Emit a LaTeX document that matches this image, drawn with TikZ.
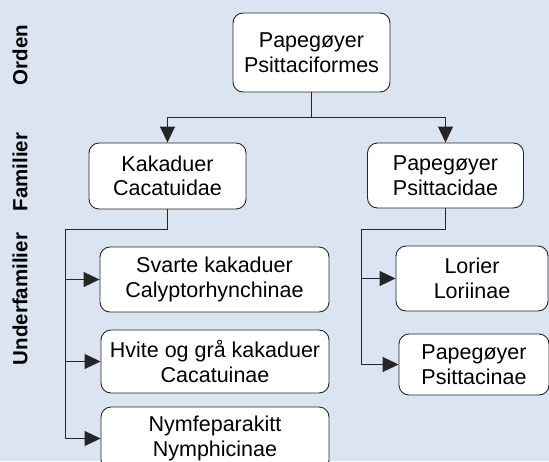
\documentclass[tikz,border=0pt]{standalone}
\usepackage{fontspec}
\setmainfont{Liberation Sans}
\usetikzlibrary{arrows.meta}
\definecolor{bg}{RGB}{219,229,241}
\begin{document}
\begin{tikzpicture}[x=1pt,y=1pt,
  box/.style={draw=black!85, line width=0.9pt, rounded corners=10pt, fill=white, align=center, inner sep=0pt, font=\fontsize{21.5}{24.5}\selectfont},
  lane/.style={rotate=90, font=\bfseries\fontsize{20.5}{23}\selectfont},
  conn/.style={line width=0.9pt, draw=black!85},
  arr/.style={conn, -{Triangle[length=16pt,width=15pt]}}]
\clip (0,0) rectangle (549,-461);
\fill[bg] (0,0) rectangle (549,-461);
% lane labels
\node[lane] (l1) at (20,-55) {Orden};
\node[lane] (l2) at (20,-172) {Familier};
\node[lane] (l3) at (20,-299) {Underfamilier};
% nodes
\node[box, minimum width=157pt, minimum height=79pt] (ord) at (311.5,-52.5) {Papegøyer\\Psittaciformes};
\node[box, minimum width=157pt, minimum height=66pt] (kak) at (167.5,-176) {Kakaduer\\Cacatuidae};
\node[box, minimum width=156pt, minimum height=65pt] (psd) at (445.5,-175.5) {Papegøyer\\Psittacidae};
\node[box, minimum width=229pt, minimum height=65pt] (sva) at (214.5,-279.5) {Svarte kakaduer\\Calyptorhynchinae};
\node[box, minimum width=228pt, minimum height=63pt] (hvi) at (215,-361.5) {Hvite og grå kakaduer\\Cacatuinae};
\node[box, minimum width=228pt, minimum height=63pt] (nym) at (215,-438.5) {Nymfeparakitt\\Nymphicinae};
\node[box, minimum width=152pt, minimum height=65pt] (lor) at (472,-278.5) {Lorier\\Loriinae};
\node[box, minimum width=150pt, minimum height=61pt] (psn) at (474,-364.5) {Papegøyer\\Psittacinae};
% connectors
\coordinate (b0) at (311.5,-117);
\draw[conn] (ord.south) -- (b0);
\draw[arr] (b0) -| (kak.north);
\draw[arr] (b0) -| (psd.north);
\coordinate (lb) at (65,-229);
\draw[conn] (kak.south) |- (lb);
\draw[arr] (lb) |- (sva.west);
\draw[arr] (lb) |- (hvi.west);
\draw[arr] (lb) |- (nym.west);
\coordinate (rb) at (361,-229);
\draw[conn] (psd.south) |- (rb);
\draw[arr] (rb) |- (lor.west);
\draw[arr] (rb) |- (psn.west);
\end{tikzpicture}
\end{document}
